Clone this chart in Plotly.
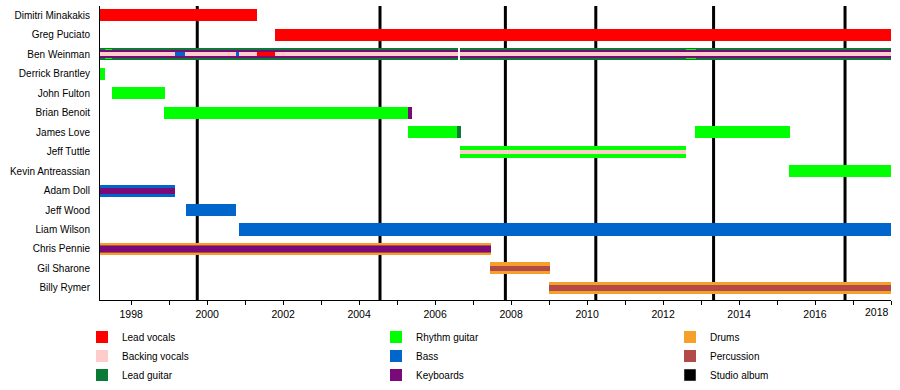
import plotly.graph_objects as go

# ---------------- data ----------------
members = ["Dimitri Minakakis", "Greg Puciato", "Ben Weinman", "Derrick Brantley",
           "John Fulton", "Brian Benoit", "James Love", "Jeff Tuttle",
           "Kevin Antreassian", "Adam Doll", "Jeff Wood", "Liam Wilson",
           "Chris Pennie", "Gil Sharone", "Billy Rymer"]

START = 1997.18
END = 2018.0

# (member, start, end) segments per role
lead_vocals = [("Dimitri Minakakis", START, 2001.30), ("Greg Puciato", 2001.78, END)]
ben_lead_vocals = [("Ben Weinman", 2001.30, 2001.78)]
backing_vocals = [("Ben Weinman", START, 2006.60), ("Ben Weinman", 2006.66, END),
                  ("Jeff Tuttle", 2006.66, 2012.60)]
lead_guitar = [("Ben Weinman", START, 2006.60), ("Ben Weinman", 2006.66, END),
               ("James Love", 2006.57, 2006.67)]
rhythm_guitar = [("Derrick Brantley", START, 1997.31), ("John Fulton", 1997.49, 1998.88),
                 ("Brian Benoit", 1998.86, 2005.28), ("James Love", 2005.29, 2006.57),
                 ("James Love", 2012.83, 2015.33), ("Jeff Tuttle", 2006.66, 2012.60),
                 ("Kevin Antreassian", 2015.31, END)]
ben_rhythm_guitar = [("Ben Weinman", 1997.31, 1997.50), ("Ben Weinman", 2012.60, 2012.86)]
bass = [("Adam Doll", START, 1999.15), ("Jeff Wood", 1999.44, 2000.75),
        ("Liam Wilson", 2000.84, END)]
ben_bass = [("Ben Weinman", 1999.15, 1999.42), ("Ben Weinman", 2000.75, 2000.84)]
keyboards = [("Ben Weinman", START, 2006.60), ("Ben Weinman", 2006.66, END),
             ("Brian Benoit", 2005.28, 2005.39), ("Adam Doll", START, 1999.15),
             ("Chris Pennie", START, 2007.47)]
drums = [("Chris Pennie", START, 2007.47), ("Gil Sharone", 2007.45, 2009.02),
         ("Billy Rymer", 2008.99, END)]
percussion = [("Chris Pennie", START, 2007.47), ("Gil Sharone", 2007.45, 2009.02),
              ("Billy Rymer", 2008.99, END)]
studio_albums = [1999.74, 2004.55, 2007.85, 2010.23, 2013.33, 2016.79]
year_ticks = list(range(1998, 2019, 2))
year_labels = [str(y) for y in year_ticks]
minor_years = list(range(1999, 2018, 2))

colors = {
    "Lead vocals": "#ff0000",
    "Backing vocals": "#ffcccc",
    "Lead guitar": "#0b7a35",
    "Rhythm guitar": "#00ff00",
    "Bass": "#0066cc",
    "Keyboards": "#7a0a78",
    "Drums": "#f5a02a",
    "Percussion": "#b24a4a",
    "Studio album": "#000000",
}
# legend column and rank for each role
legend_of = {"Lead vocals": ("legend", 1), "Backing vocals": ("legend", 2),
             "Lead guitar": ("legend", 3), "Rhythm guitar": ("legend2", 1),
             "Bass": ("legend2", 2), "Keyboards": ("legend2", 3),
             "Drums": ("legend3", 1), "Percussion": ("legend3", 2),
             "Studio album": ("legend3", 3)}

FULL = 0.62


def bar(role, segs, widths, show=True):
    lg, rk = legend_of[role]
    return go.Bar(
        orientation="h",
        y=[members.index(s[0]) for s in segs],
        base=[s[1] for s in segs],
        x=[s[2] - s[1] for s in segs],
        width=widths,
        marker=dict(color=colors[role], line=dict(width=0)),
        name=role, legendgroup=role, showlegend=show,
        legend=lg, legendrank=rk, hoverinfo="skip",
    )


def w_of(segs, special, default=FULL):
    return [special.get(s[0], default) for s in segs]


fig = go.Figure()
fig.add_trace(bar("Lead guitar", lead_guitar, [FULL] * len(lead_guitar)))
fig.add_trace(bar("Drums", drums, [FULL] * len(drums)))
fig.add_trace(bar("Bass", bass, [FULL] * len(bass)))
fig.add_trace(bar("Rhythm guitar", rhythm_guitar, [FULL] * len(rhythm_guitar)))
fig.add_trace(bar("Rhythm guitar", ben_rhythm_guitar, [0.5] * len(ben_rhythm_guitar), show=False))
fig.add_trace(bar("Percussion", percussion,
                  w_of(percussion, {"Chris Pennie": 0.42}, 0.27)))
fig.add_trace(bar("Keyboards", keyboards,
                  w_of(keyboards, {"Ben Weinman": 0.40, "Adam Doll": 0.30,
                                   "Chris Pennie": 0.26})))
fig.add_trace(bar("Backing vocals", backing_vocals, [0.2] * len(backing_vocals)))
fig.add_trace(bar("Bass", ben_bass, [0.2] * len(ben_bass), show=False))
fig.add_trace(bar("Lead vocals", lead_vocals, [FULL] * len(lead_vocals)))
fig.add_trace(bar("Lead vocals", ben_lead_vocals, [0.2] * len(ben_lead_vocals), show=False))
# legend entry for studio albums
fig.add_trace(go.Bar(orientation="h", y=[None], x=[None], name="Studio album",
                     marker=dict(color=colors["Studio album"]),
                     legend="legend3", legendrank=3, showlegend=True, hoverinfo="skip"))

for a in studio_albums:
    fig.add_vline(x=a, line=dict(color="black", width=3), layer="below")

# last year label sits flush-right against the end of the axis
fig.add_annotation(x=year_ticks[-1], y=0, xref="x", yref="paper", text=year_labels[-1],
                   showarrow=False, xanchor="right", yanchor="top", yshift=-4,
                   font=dict(size=10.5))

leg_common = dict(orientation="v", xref="container", yref="container",
                  xanchor="left", yanchor="top", y=0.173, tracegroupgap=0,
                  font=dict(size=10), itemclick=False, bgcolor="rgba(0,0,0,0)")

fig.update_layout(
    width=900, height=390,
    margin=dict(l=100, r=9, t=6, b=90, autoexpand=False),
    barmode="overlay", bargap=0,
    plot_bgcolor="white", paper_bgcolor="white",
    font=dict(family="Liberation Sans, Arial, sans-serif", size=10, color="black"),
    xaxis=dict(range=[START, END], tickvals=year_ticks[:-1], ticktext=year_labels[:-1],
               ticks="outside", ticklen=4, tickcolor="black",
               tickfont=dict(size=10.5),
               showgrid=False, zeroline=False, showline=True, linecolor="black",
               linewidth=1, automargin=False,
               minor=dict(tickvals=minor_years + [year_ticks[-1]], ticks="outside",
                          ticklen=4, tickcolor="black", showgrid=False)),
    yaxis=dict(tickvals=list(range(len(members))), ticktext=members,
               range=[14.62, -0.48], showgrid=False, zeroline=False, automargin=False,
               showline=True, linecolor="black", linewidth=1, ticks="",
               ticklabelstandoff=7),
    legend=dict(x=82 / 900, **leg_common),
    legend2=dict(x=376 / 900, **leg_common),
    legend3=dict(x=670 / 900, **leg_common),
    showlegend=True,
)

fig.write_html("out.html", config={"displayModeBar": False},
               post_script="document.body.style.margin='0';")
